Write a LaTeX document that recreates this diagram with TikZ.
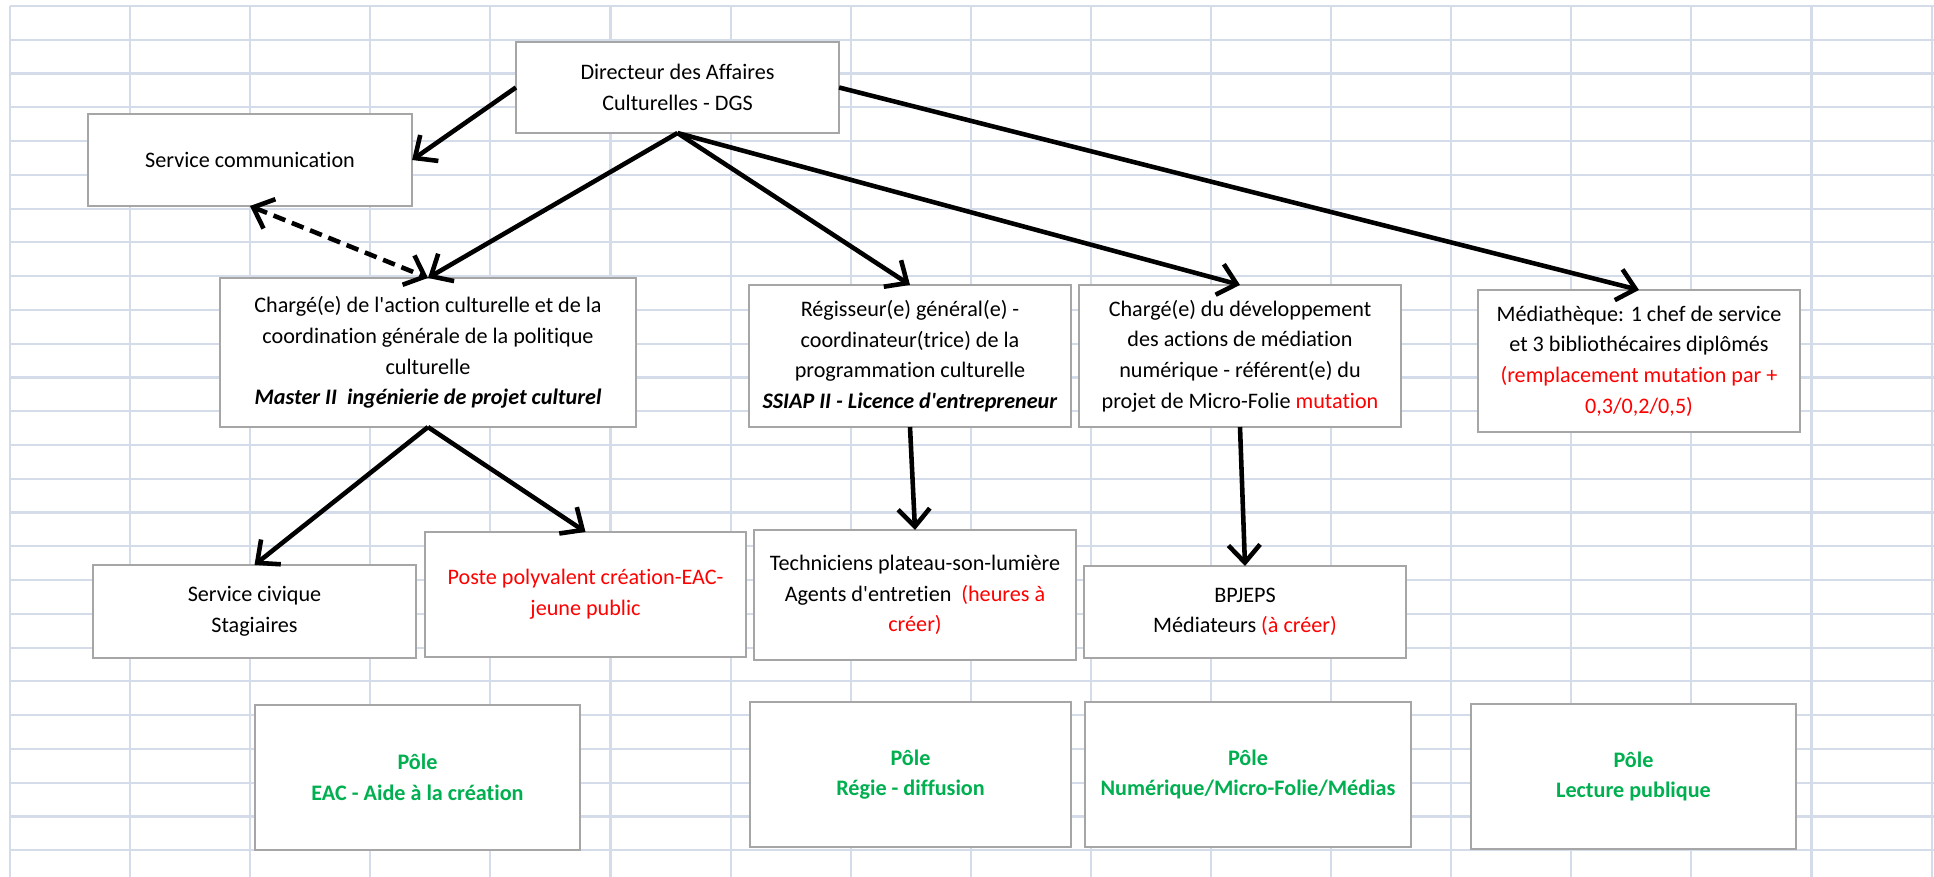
\documentclass[tikz,border=0pt]{standalone}
\usepackage{fontspec}
\setmainfont{Carlito}[Ligatures={NoCommon,TeXOff}]
\usetikzlibrary{arrows.meta}

\definecolor{alertred}{RGB}{255,0,0}
\definecolor{polegreen}{RGB}{0,176,80}
\definecolor{gridblue}{RGB}{212,219,233}

\begin{document}
\begin{tikzpicture}[
    x=0.01cm, y=-0.01cm,
    >={Straight Barb[length=5pt,width=9pt]},
    every node/.style={font=\fontsize{6.3}{8.7}\selectfont},
    box/.style ={draw=black!35, line width=0.6pt, fill=white, align=center,
                 inner sep=0pt, outer sep=0pt, minimum width=3.22cm,
                 minimum height=1.42cm},
    small/.style={box, minimum height=0.92cm},
    pole/.style={box, minimum height=1.45cm, text=polegreen,
                 font=\fontsize{6.3}{8.7}\selectfont\bfseries},
    link/.style={->, line width=1.3pt},
    gridline/.style={draw=gridblue, line width=0.6pt},
]

\useasboundingbox (0,0) rectangle (1934,877);

% spreadsheet grid
\foreach \i in {0,...,16}
  \draw[gridline] ({10+120.1*\i},6) -- ({10+120.1*\i},877);
\foreach \j in {0,...,25}
  \draw[gridline] (10,{6+33.77*\j}) -- (1934,{6+33.77*\j});

\node[small, minimum width=3.23cm, minimum height=0.91cm] (dir) at (677.5,87.5)
      {Directeur des Affaires\\Culturelles - DGS};
\node[small, minimum width=3.24cm] (com) at (250,160) {Service communication};

\node[box, minimum width=4.16cm, minimum height=1.49cm] (action) at (428,352.5)
      {Chargé(e) de l'action culturelle et de la\\coordination générale de la politique\\culturelle\\
       \textbf{\textit{Master II\ \ ingénierie de projet culturel}}};
\node[box] (regie)  at (910,356)
      {Régisseur(e) général(e) -\\coordinateur(trice) de la\\programmation culturelle\\
       \textbf{\textit{SSIAP II - Licence d'entrepreneur}}};
\node[box] (numdev) at (1240,356)
      {Chargé(e) du développement\\des actions de médiation\\numérique - référent(e) du\\
       projet de Micro-Folie \textcolor{alertred}{mutation}};
\node[box] (media)  at (1639,361)
      {Médiathèque: 1 chef de service\\et 3 bibliothécaires diplômés\\
       \textcolor{alertred}{(remplacement mutation par +}\\\textcolor{alertred}{0,3/0,2/0,5)}};

\node[small, minimum width=3.23cm, minimum height=0.93cm] (civique) at (254.5,611.5)
      {Service civique\\Stagiaires};
\node[box, minimum width=3.21cm, minimum height=1.25cm, text=alertred] (poste) at (585.5,594.5)
      {Poste polyvalent création-EAC-\\jeune public};
\node[box, minimum height=1.30cm] (techn) at (915,595)
      {Techniciens plateau-son-lumière\\Agents d'entretien\ \ \textcolor{alertred}{(heures à}\\
       \textcolor{alertred}{créer)}};
\node[small] (bpjeps) at (1245,612)
      {BPJEPS\\Médiateurs \textcolor{alertred}{(à créer)}};

\node[pole, minimum width=3.25cm] (pEAC)  at (417.5,777.5) {Pôle\\EAC - Aide à la création};
\node[pole, minimum width=3.21cm] (pRegie) at (910.5,774.5) {Pôle\\Régie - diffusion};
\node[pole, minimum width=3.26cm] (pNum)  at (1248,774.5)  {Pôle\\Numérique/Micro-Folie/Médias};
\node[pole, minimum width=3.25cm] (pLect) at (1633.5,776.5) {Pôle\\Lecture publique};

\draw[link] (dir.west)  -- (com.east);
\draw[link] (dir.south) -- (action.north);
\draw[link] (dir.south) -- (regie.north);
\draw[link] (dir.south) -- (numdev.north);
\draw[link] (dir.east)  -- (media.north);
\draw[link, <->, dash pattern=on 3.6pt off 2pt] (com.south) -- (action.north);
\draw[link] (action.south) -- (civique.north);
\draw[link] (action.south) -- (poste.north);
\draw[link] (regie.south)  -- (techn.north);
\draw[link] (numdev.south) -- (bpjeps.north);

\end{tikzpicture}
\end{document}
